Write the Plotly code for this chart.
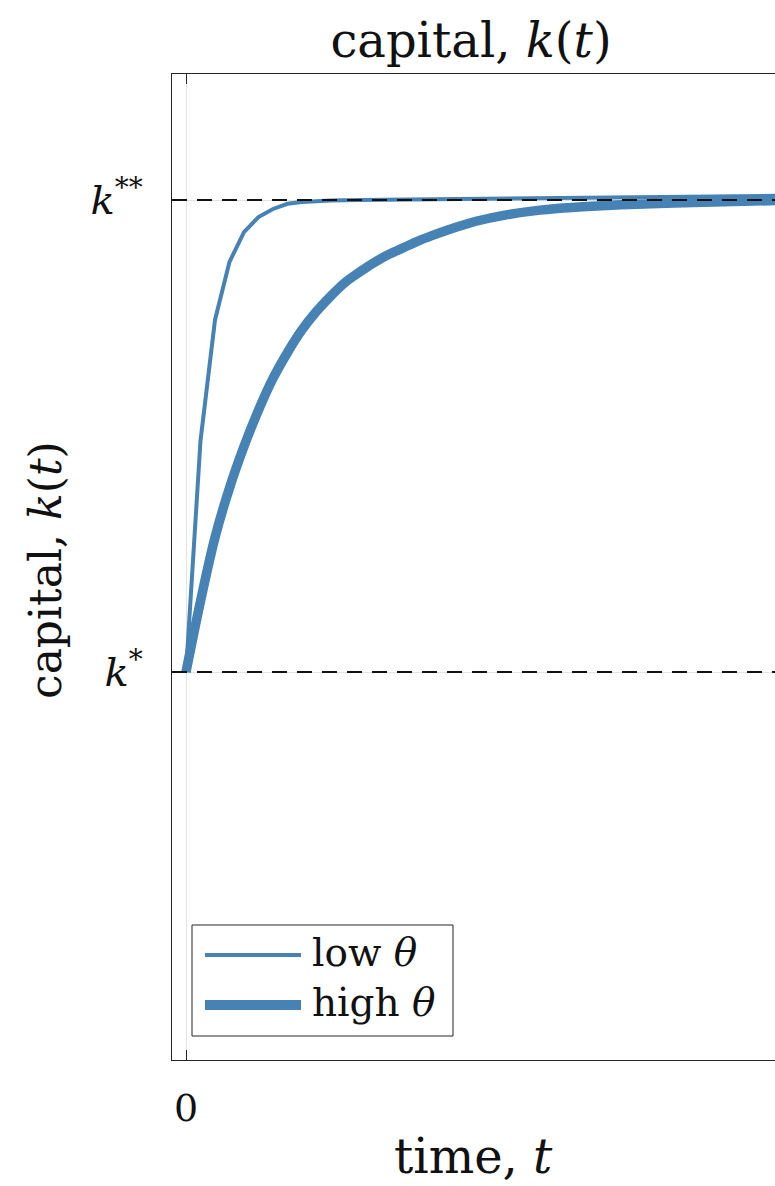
import plotly.graph_objects as go

# ---------------- data ----------------
t_low = [0, 1, 2, 3, 4, 5, 6, 7, 8, 9, 10, 12, 15, 20, 25, 30, 35, 41]
k_low = [1.0, 1.49, 1.746, 1.869, 1.932, 1.964, 1.981, 1.992, 1.996, 1.998,
         1.999, 2.0, 2.001, 2.003, 2.004, 2.005, 2.007, 2.009]

t_high = [0, 1, 2, 3, 4, 5, 6, 7, 8, 9, 10, 11, 12, 13, 14, 15, 16, 17, 18, 19,
          20, 22, 24, 26, 28, 30, 35, 41]
k_high = [1.0, 1.15, 1.285, 1.39, 1.478, 1.555, 1.622, 1.677, 1.725, 1.764, 1.797,
          1.826, 1.848, 1.868, 1.885, 1.899, 1.913, 1.925, 1.936, 1.946, 1.955,
          1.968, 1.977, 1.983, 1.987, 1.990, 1.995, 1.999]

k_star = 1.0
k_starstar = 2.0
y_tickvals = [k_star, k_starstar]
y_ticktext = ["<i>k</i><sup>*</sup>", "<i>k</i><sup>**</sup>"]
x_tickvals = [0]
x_ticktext = ["0"]
series_names = ["low <i>θ</i>", "high <i>θ</i>"]

# ---------------- styling / layout ----------------
W, H = 775, 1186
L, R, T, B = 172, 775, 74, 1060
BLUE = "#4682B4"
INK = "#262626"
TXT = "#111111"
FONT = "DejaVu Serif"


def px_x(p):
    return (p - L) / (R - L)


def px_y(p):
    return (B - p) / (B - T)


fig = go.Figure()
fig.add_trace(go.Scatter(x=t_low, y=k_low, mode="lines", name=series_names[0],
                         line=dict(color=BLUE, width=4), showlegend=False))
fig.add_trace(go.Scatter(x=t_high, y=k_high, mode="lines", name=series_names[1],
                         line=dict(color=BLUE, width=9.5, shape="spline", smoothing=1.0),
                         showlegend=False))

shapes = []
for kv in (k_star, k_starstar):
    shapes.append(dict(type="line", xref="paper", yref="y", x0=0, x1=1, y0=kv, y1=kv,
                       line=dict(color="#111111", width=2, dash="15px,10px"), layer="above"))

# custom legend
shapes.append(dict(type="rect", xref="paper", yref="paper",
                   x0=px_x(192), x1=px_x(453), y0=px_y(1036), y1=px_y(925),
                   line=dict(color=INK, width=1), fillcolor="white", layer="above"))
shapes.append(dict(type="line", xref="paper", yref="paper",
                   x0=px_x(205), x1=px_x(301), y0=px_y(955), y1=px_y(955),
                   line=dict(color=BLUE, width=4), layer="above"))
shapes.append(dict(type="line", xref="paper", yref="paper",
                   x0=px_x(205), x1=px_x(301), y0=px_y(1005), y1=px_y(1005),
                   line=dict(color=BLUE, width=10), layer="above"))

annotations = [
    dict(text=series_names[0], xref="paper", yref="paper", x=px_x(310), y=px_y(952),
         xanchor="left", yanchor="middle", showarrow=False,
         font=dict(family=FONT, size=39, color=TXT)),
    dict(text=series_names[1], xref="paper", yref="paper", x=px_x(310), y=px_y(1002),
         xanchor="left", yanchor="middle", showarrow=False,
         font=dict(family=FONT, size=39, color=TXT)),
    dict(text="time, <i>t</i>", xref="paper", yref="paper", x=0.5, y=px_y(1156),
         xanchor="center", yanchor="middle", showarrow=False,
         font=dict(family=FONT, size=48, color=TXT)),
    dict(text="capital, <i>k</i>(<i>t</i>)", xref="paper", yref="paper", x=px_x(45),
         y=px_y(570), xanchor="center", yanchor="middle", textangle=-90, showarrow=False,
         font=dict(family=FONT, size=44, color=TXT)),
]

fig.update_layout(
    width=W, height=H,
    margin=dict(l=L, r=W - R, t=T, b=H - B, pad=0),
    paper_bgcolor="white", plot_bgcolor="white",
    title=dict(text="capital, <i>k</i>(<i>t</i>)", x=px_x(471), xref="paper",
               xanchor="center", y=1 - 40 / H, yref="container", yanchor="middle",
               font=dict(family=FONT, size=48, color=TXT)),
    shapes=shapes, annotations=annotations, showlegend=False,
)

fig.update_xaxes(range=[-14 / 14.5, 589 / 14.5], tickmode="array", tickvals=x_tickvals,
                 ticktext=x_ticktext, ticks="inside", ticklen=10, tickwidth=1, tickcolor=INK,
                 showline=True, linecolor=INK, linewidth=1.3, mirror="ticks",
                 showgrid=True, gridcolor="#e3e3e3", gridwidth=1, zeroline=False,
                 ticklabelstandoff=14,
                 tickfont=dict(family=FONT, size=38, color=TXT))
fig.update_yaxes(range=[0.178, 2.267], tickmode="array", tickvals=y_tickvals,
                 ticktext=y_ticktext, ticks="inside", ticklen=10, tickwidth=1, tickcolor=INK,
                 showline=True, linecolor=INK, linewidth=1.3, mirror=False,
                 showgrid=True, gridcolor="#e3e3e3", gridwidth=1, zeroline=False,
                 ticklabelstandoff=20,
                 tickfont=dict(family=FONT, size=40, color=TXT))

fig.write_html("out.html")
